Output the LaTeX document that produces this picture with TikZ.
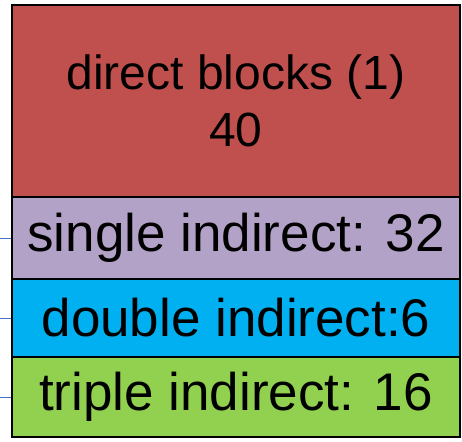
\documentclass[tikz,border=0pt]{standalone}
\usepackage{fontspec}
\setmainfont{Liberation Sans}
\definecolor{cred}{HTML}{C0504D}
\definecolor{cpurple}{HTML}{B3A2C7}
\definecolor{cblue}{HTML}{00B0F0}
\definecolor{cgreen}{HTML}{92D050}
\definecolor{cstub}{HTML}{4472C4}
\begin{document}
\begin{tikzpicture}[x=1pt,y=-1pt,
  block/.style={draw=black, line width=1.3pt, rectangle, inner sep=0pt, minimum width=448pt, align=center, text=black},
  stub/.style={draw=cstub, line width=0.9pt}]
\useasboundingbox (0,0) rectangle (462,441);
\node[block, fill=cred, minimum height=192pt, font=\fontsize{48}{57}\selectfont] (direct) at (236,101) {direct blocks (1)\\40};
\node[block, fill=cpurple, minimum height=82pt, font=\fontsize{53}{60}\selectfont] (single) at (236,238) {single indirect: 32};
\node[block, fill=cblue, minimum height=78pt, font=\fontsize{53}{60}\selectfont] (double) at (236,318) {double indirect:6};
\node[block, fill=cgreen, minimum height=80pt, font=\fontsize{53}{60}\selectfont] (triple) at (236,397) {triple indirect: 16};
\coordinate (s1) at (0,238);
\coordinate (s2) at (0,318);
\coordinate (s3) at (0,397);
\draw[stub] (s1) -- (single.west);
\draw[stub] (s2) -- (double.west);
\draw[stub] (s3) -- (triple.west);
\end{tikzpicture}
\end{document}
